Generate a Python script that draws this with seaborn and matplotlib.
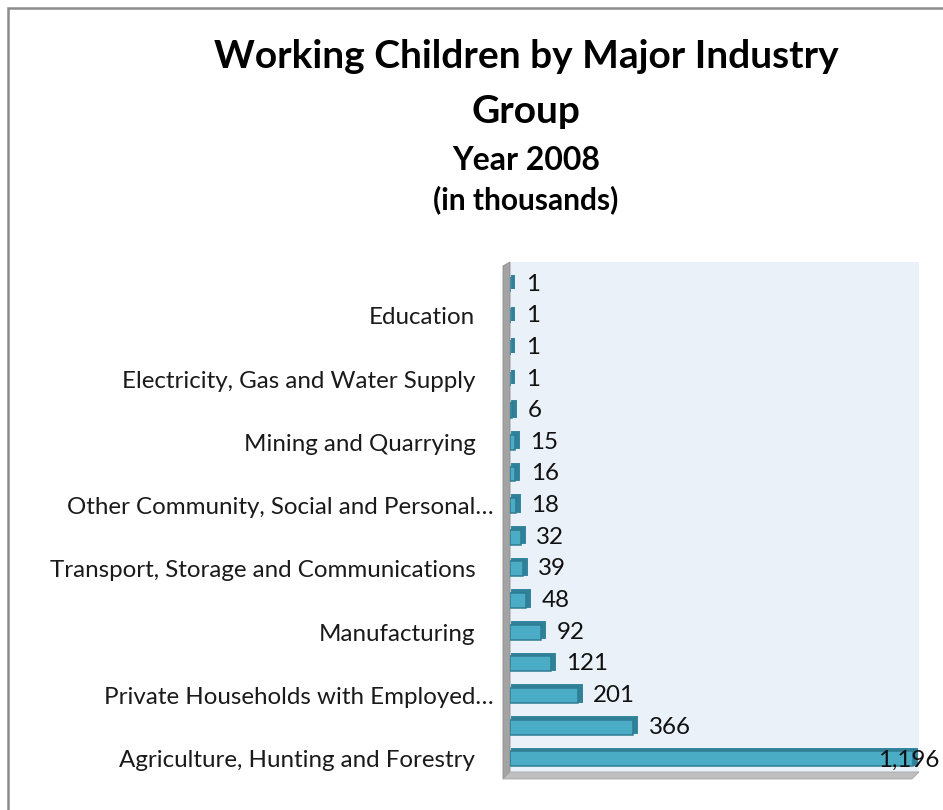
import matplotlib
matplotlib.use("Agg")
import matplotlib.pyplot as plt
import matplotlib.transforms as mtransforms
from matplotlib.patches import Polygon, Rectangle
import seaborn as sns
import pandas as pd

# ---- data (top to bottom as displayed) ----
categories = [
    "Financial Intermediation",
    "Education",
    "Health and Social Work",
    "Electricity, Gas and Water Supply",
    "Real Estate, Renting and Business Activities",
    "Mining and Quarrying",
    "Public Administration and Defense",
    "Other Community, Social and Personal\u2026",
    "Hotels and Restaurants",
    "Transport, Storage and Communications",
    "Construction",
    "Manufacturing",
    "Fishing",
    "Private Households with Employed\u2026",
    "Wholesale and Retail Trade",
    "Agriculture, Hunting and Forestry",
]
values = [1, 1, 1, 1, 6, 15, 16, 18, 32, 39, 48, 92, 121, 201, 366, 1196]
shown_labels = [c if i % 2 == 1 else "" for i, c in enumerate(categories)]

title_line1 = "Working Children by Major Industry"
title_line2 = "Group"
title_year = "Year 2008"
title_unit = "(in thousands)"

df = pd.DataFrame({"category": categories, "value": values})

sns.set_theme(style="white")
plt.rcParams["font.family"] = ["Lato", "DejaVu Sans"]

fig = plt.figure(figsize=(9.43, 8.10), dpi=100)
ax = fig.add_axes([510 / 943, 1 - 772 / 810, 409 / 943, 510 / 810])
ax.set_facecolor("#EAF1F8")

# dark "depth" bars, shifted up/right to mimic the 3D bevel
sns.barplot(data=df, x="value", y="category", orient="h", color="#2F8199",
            saturation=1, width=0.45, ax=ax, edgecolor="#2F8199", linewidth=2.8)
n_dark = len(ax.patches)
off = mtransforms.ScaledTranslation(3 / 100, 2 / 100, fig.dpi_scale_trans)
for p in ax.patches[:n_dark]:
    p.set_transform(ax.transData + off)

sns.barplot(data=df, x="value", y="category", orient="h", color="#4BACC6",
            saturation=1, width=0.47, ax=ax, edgecolor="#2E7D92", linewidth=1.1)

ax.set_xlim(0, 1214)
ax.set_ylim(15.42, -0.7)
for s in ax.spines.values():
    s.set_visible(False)
ax.set_xticks([])
ax.set_yticks(range(len(categories)))
ax.set_yticklabels(shown_labels, fontsize=17.4, color="#1a1a1a")
ax.tick_params(axis="y", length=0, pad=25)
ax.set_xlabel("")
ax.set_ylabel("")
shift = mtransforms.ScaledTranslation(18 / 100, 0, fig.dpi_scale_trans)
for t in ax.get_yticklabels():
    if t.get_text().endswith("\u2026"):
        t.set_transform(t.get_transform() + shift)

cont = ax.containers[-1]
anns = ax.bar_label(cont, labels=[f"{v:,}" for v in values], padding=11,
                    fontsize=17.4, color="#111111")
anns[-1].xyann = (-25, -1)
for a in anns:
    a.set_clip_on(False)

# left wall and floor (3D frame)
wall_w = 7 / 409
floor_h = 7 / 510
ax.add_patch(Polygon([(-wall_w, -floor_h), (0, 0), (0, 1), (-wall_w, 1 - 4 / 510)],
                     closed=True, transform=ax.transAxes, clip_on=False,
                     facecolor="#A3A3A3", edgecolor="#8C8C8C", lw=0.6, zorder=0))
ax.add_patch(Polygon([(-wall_w, -floor_h), (0, 0), (1, 0), (1 - wall_w, -floor_h)],
                     closed=True, transform=ax.transAxes, clip_on=False,
                     facecolor="#BFBFBF", edgecolor="#A6A6A6", lw=0.6, zorder=0))

# titles
cx = 526 / 943
fig.text(cx, 1 - 68 / 810, title_line1, ha="center", va="baseline",
         fontsize=28, fontweight="bold", color="#000000")
fig.text(cx, 1 - 123 / 810, title_line2, ha="center", va="baseline",
         fontsize=28, fontweight="bold", color="#000000")
fig.text(cx, 1 - 170 / 810, title_year, ha="center", va="baseline",
         fontsize=23, fontweight="bold", color="#000000")
fig.text(cx, 1 - 209 / 810, title_unit, ha="center", va="baseline",
         fontsize=21.5, fontweight="bold", color="#000000")

# outer chart border
fig.patches.append(Rectangle((8 / 943, -0.1), 2, 1.1 - 8 / 810,
                             transform=fig.transFigure, fill=False,
                             edgecolor="#8C8C8C", lw=1.8))

fig.savefig("out.png", dpi=100)
